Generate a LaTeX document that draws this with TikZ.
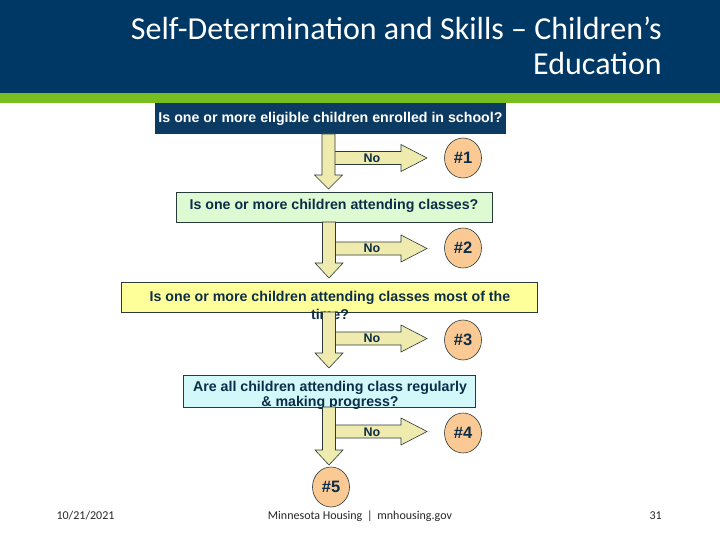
\documentclass[tikz,border=0pt]{standalone}
\usepackage{fontspec}
\setmainfont{Carlito}
\newfontfamily\arialfont{Liberation Sans}
\definecolor{hdrblue}{HTML}{003865}
\definecolor{hdrgreen}{HTML}{78BE20}
\definecolor{boxnavy}{HTML}{0B3A62}
\definecolor{txtnavy}{HTML}{0C2D48}
\definecolor{bgreen}{HTML}{DDFAD2}
\definecolor{byellow}{HTML}{FFFF99}
\definecolor{bcyan}{HTML}{D2F8FA}
\definecolor{arrfill}{HTML}{EFEBAE}
\definecolor{peach}{HTML}{FBC994}
\definecolor{edge}{HTML}{2A3A3A}
\tikzset{
  qbox/.style={draw=edge, line width=0.8pt},
  qtext/.style={font=\arialfont\bfseries\fontsize{14.2}{16}\selectfont, text=txtnavy, inner sep=0pt},
  arrowshape/.style={fill=arrfill, draw=edge, line width=0.6pt, line join=miter},
  notext/.style={font=\arialfont\bfseries\fontsize{12.5}{14}\selectfont, text=txtnavy, inner sep=0pt},
  result/.style={ellipse, draw=edge, line width=0.6pt, fill=peach, minimum width=37pt, minimum height=40pt, inner sep=0pt, font=\arialfont\bfseries\fontsize{16.5}{18}\selectfont, text=txtnavy},
  foot/.style={font=\fontsize{12}{14}\selectfont, text=black!85, inner sep=0pt}
}
\usetikzlibrary{shapes.geometric}
% down arrow: x centre, top y, head base y, tip y
\newcommand{\fatdown}[4]{%
  \filldraw[arrowshape] ({#1-6.5},#2) -- ({#1+6.5},#2) -- ({#1+6.5},#3) -- ({#1+14},#3) -- (#1,#4) -- ({#1-14},#3) -- ({#1-6.5},#3) -- cycle;}
% right arrow: start x, centre y
\newcommand{\fatright}[2]{%
  \filldraw[arrowshape] (#1,{#2-6.5}) -- (401,{#2-6.5}) -- (401,{#2-13.5}) -- (427,#2) -- (401,{#2+13.5}) -- (401,{#2+6.5}) -- (#1,{#2+6.5}) -- cycle;}
\begin{document}
\begin{tikzpicture}[x=1pt,y=-1pt]
\useasboundingbox (0,0) rectangle (720,540);
\fill[white] (0,0) rectangle (720,540);
% header
\fill[hdrblue] (0,0) rectangle (720,93);
\fill[hdrgreen] (0,93) rectangle (720,103);
\node[anchor=base east, text=white, font=\fontsize{32}{38}\selectfont, inner sep=0pt] (title1) at (662,40) {Self-Determination and Skills -- Children’s};
\node[anchor=base east, text=white, font=\fontsize{32}{38}\selectfont, inner sep=0pt] (title2) at (662,75) {Education};
% branch arrows (drawn beneath the down arrows)
\fatright{329}{158}
\fatright{329}{248.5}
\fatright{329}{338.5}
\fatright{329}{431.5}
% boxes
\fill[boxnavy] (155,103) rectangle (506,134);
\node[qtext, text=white] (q1) at (330.5,118.5) {Is one or more eligible children enrolled in school?};
\draw[qbox, fill=bgreen] (176,192) rectangle (492,222);
\node[qtext] (q2) at (334,206) {Is one or more children attending classes?};
\draw[qbox, fill=byellow] (121,282) rectangle (537,312);
\node[qtext] (q3) at (330,298) {Is one or more children attending classes most of the};
\node[qtext] (q3b) at (330,314) {time?};
\draw[qbox, fill=bcyan] (183,375) rectangle (475,407);
\node[qtext] (q4) at (330,388) {Are all children attending class regularly};
\node[qtext] (q4b) at (330,403) {\& making progress?};
% down arrows
\fatdown{328.5}{134}{175}{189}
\fatdown{329}{222}{263}{278}
\fatdown{329}{312}{353}{368}
\fatdown{329}{407}{450}{465}
% No labels
\node[notext] (n1) at (372,158.5) {No};
\node[notext] (n2) at (372,248.5) {No};
\node[notext] (n3) at (372,338.5) {No};
\node[notext] (n4) at (372,432) {No};
% outcomes
\node[result] (r1) at (463,158) {\#1};
\node[result] (r2) at (463,248) {\#2};
\node[result] (r3) at (463,340) {\#3};
\node[result] (r4) at (463,433) {\#4};
\node[result] (r5) at (331,487) {\#5};
% footer
\node[foot, anchor=base] (date) at (85.5,519) {10/21/2021};
\node[foot, anchor=base] (site) at (360,519) {Minnesota Housing \,|\, mnhousing.gov};
\node[foot, anchor=base east] (page) at (662,519) {31};
\end{tikzpicture}
\end{document}
